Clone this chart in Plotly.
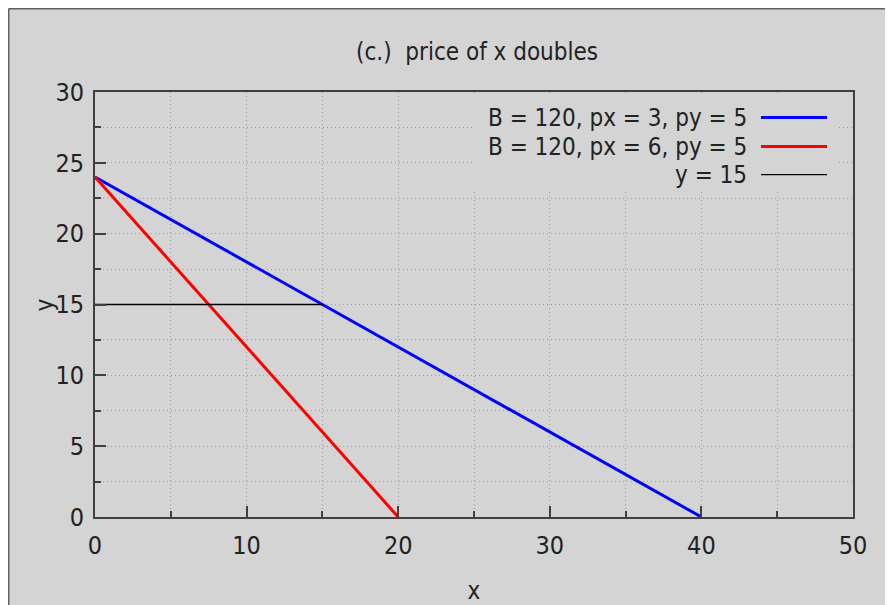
import plotly.graph_objs as go

# budget lines
x_budget_1 = [0, 40]
y_budget_1 = [24, 0]
x_budget_2 = [0, 20]
y_budget_2 = [24, 0]
x_level = [0, 15]
y_level = [15, 15]

labels = ["B = 120, px = 3, py = 5", "B = 120, px = 6, py = 5", "y = 15"]
colors = ["#0000ff", "#ff0000", "#000000"]
widths = [3, 3, 1.3]

x_ticks = [0, 10, 20, 30, 40, 50]
y_ticks = [0, 5, 10, 15, 20, 25, 30]

BG = "#d4d4d4"
AXIS = "#404040"
GRID = "#9c9c9c"
FONT = "DejaVu Sans Condensed, Liberation Sans Narrow, Noto Sans, sans-serif"

fig = go.Figure()

for xs, ys, name, c, w in zip([x_budget_1, x_budget_2, x_level],
                              [y_budget_1, y_budget_2, y_level],
                              labels, colors, widths):
    fig.add_trace(go.Scatter(
        x=xs, y=ys, mode="lines", name=name,
        line=dict(color=c, width=w), showlegend=False
    ))

axis_common = dict(
    showline=True, linecolor=AXIS, linewidth=2, mirror=True,
    ticks="inside", ticklen=11, tickwidth=2, tickcolor=AXIS,
    showgrid=True, gridcolor=GRID, griddash="1px,3px", gridwidth=1,
    zeroline=False, automargin=False,
    tickfont=dict(size=25, color="#222", family=FONT),
)

fig.update_xaxes(
    range=[0, 50], tickvals=x_ticks, ticklabelstandoff=5,
    minor=dict(dtick=5, ticks="inside", ticklen=6, tickcolor=AXIS,
               showgrid=True, gridcolor=GRID, griddash="1px,3px"),
    title=dict(text="x", font=dict(size=24, color="#222", family=FONT), standoff=23),
    **axis_common
)
fig.update_yaxes(
    range=[0, 30], tickvals=y_ticks, ticklabelstandoff=4,
    minor=dict(dtick=2.5, ticks="inside", ticklen=6, tickcolor=AXIS,
               showgrid=True, gridcolor=GRID, griddash="1px,3px"),
    **axis_common
)

# legend box drawn by hand (text on the left, sample on the right)
fig.add_shape(type="rect", xref="paper", yref="paper", x0=0.50, x1=0.98,
              y0=0.77, y1=0.99, fillcolor=BG, line=dict(width=0), layer="above")
row_y = [0.940, 0.8716, 0.8057]
for name, c, w, ry in zip(labels, colors, widths, row_y):
    fig.add_annotation(x=0.8628, y=ry, xref="paper", yref="paper", text=name,
                       showarrow=False, xanchor="right", yanchor="middle",
                       font=dict(size=24, color="#222", family=FONT))
    fig.add_shape(type="line", xref="paper", yref="paper", x0=0.8786, x1=0.9657,
                  y0=ry, y1=ry, line=dict(color=c, width=w), layer="above")

# y axis label sits over the tick labels
fig.add_annotation(x=-0.066, y=0.5, xref="paper", yref="paper", text="y",
                   showarrow=False, textangle=-90, xanchor="center", yanchor="middle",
                   font=dict(size=24, color="#222", family=FONT))

# window frame (top and left edges)
fig.add_shape(type="line", xref="paper", yref="paper", x0=-0.1138, x1=1.06,
              y0=1.1959, y1=1.1959, line=dict(color="#606060", width=1.5))
fig.add_shape(type="line", xref="paper", yref="paper", x0=-0.1138, x1=-0.1138,
              y0=-0.21, y1=1.1959, line=dict(color="#606060", width=1.5))

fig.update_layout(
    width=885, height=597,
    margin=dict(l=87, r=40, t=84, b=88),
    paper_bgcolor=BG, plot_bgcolor=BG,
    title=dict(text="(c.)  price of x doubles", x=0.530, xanchor="center",
               y=0.927, yanchor="middle",
               font=dict(size=24, color="#222", family=FONT)),
)

fig.write_html("out.html")
